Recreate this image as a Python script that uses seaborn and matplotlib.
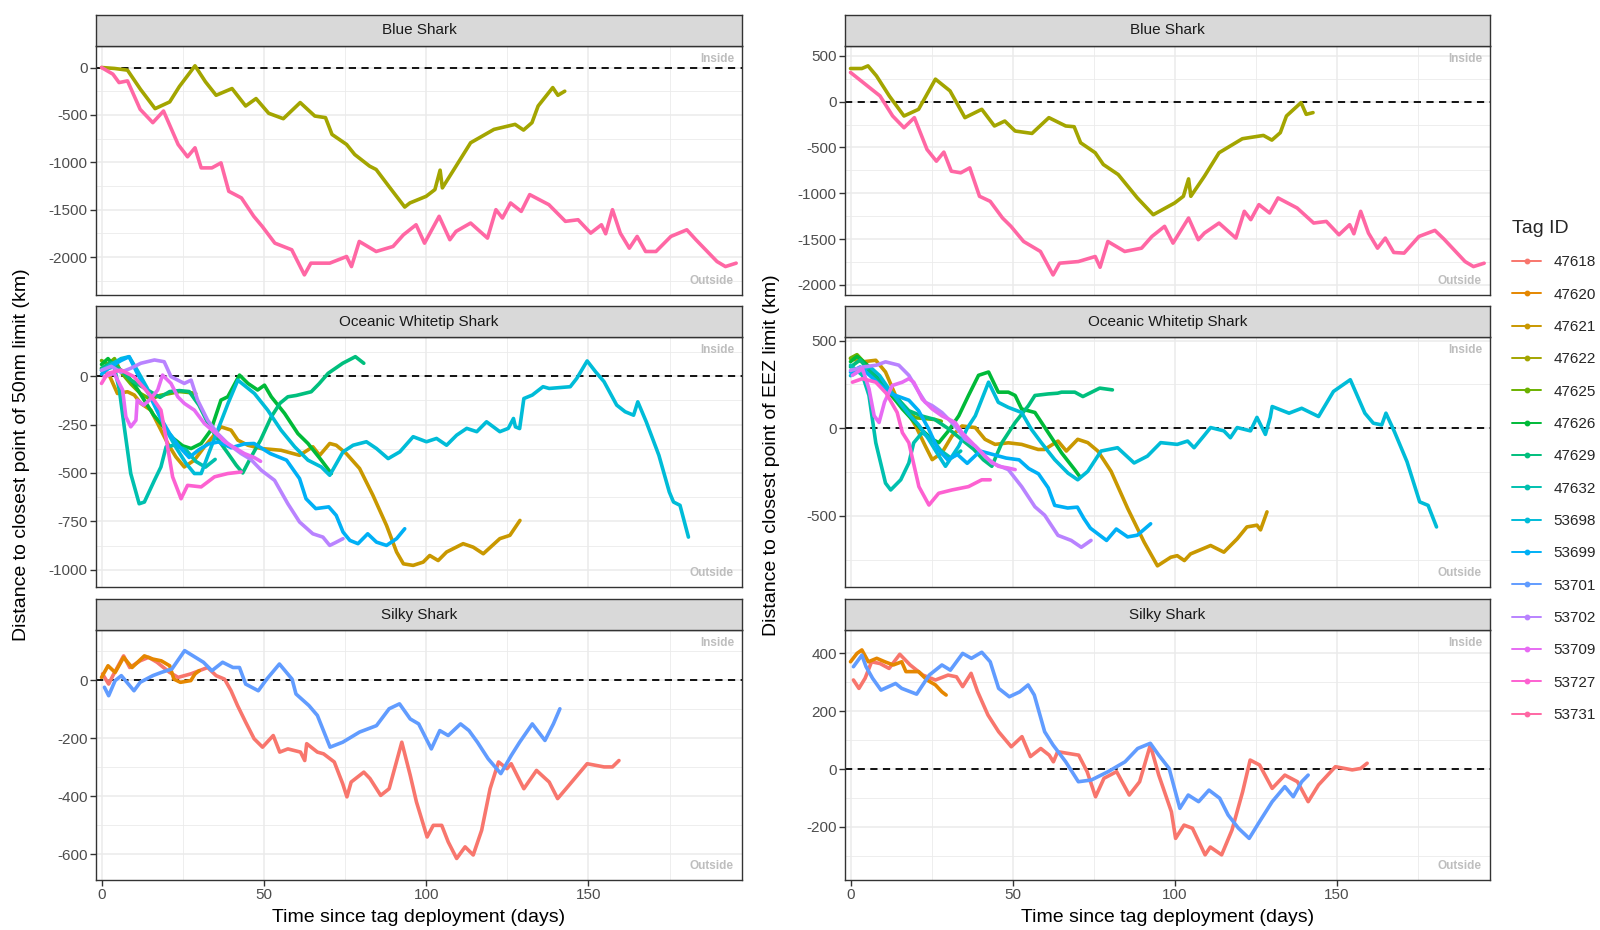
import numpy as np
import pandas as pd
import matplotlib
matplotlib.use("Agg")
import matplotlib.pyplot as plt
import seaborn as sns
from matplotlib.lines import Line2D

# ---------------- categories / legend ----------------
TAG_IDS = ["47618", "47620", "47621", "47622", "47625", "47626", "47629", "47632",
           "53698", "53699", "53701", "53702", "53709", "53727", "53731"]
TAG_COLORS = ["#F8766D", "#E58700", "#C99800", "#A3A500", "#6BB100", "#00BA38", "#00BF7D",
              "#00C0AF", "#00BCD8", "#00B0F6", "#619CFF", "#B983FF", "#E76BF3", "#FD61D1", "#FF67A4"]
SPECIES = ["Blue Shark", "Oceanic Whitetip Shark", "Silky Shark"]
X_TICKS = [0, 50, 100, 150]

Y_TICKS_50NM_BLUE = [0, -500, -1000, -1500, -2000]
Y_TICKS_50NM_OWT = [0, -250, -500, -750, -1000]
Y_TICKS_50NM_SILKY = [0, -200, -400, -600]
Y_TICKS_EEZ_BLUE = [500, 0, -500, -1000, -1500, -2000]
Y_TICKS_EEZ_OWT = [500, 0, -500]
Y_TICKS_EEZ_SILKY = [400, 200, 0, -200]

# ---------------- series: (day, km) ----------------
# ---- Distance to 50nm limit ----
N50_BLUE_47622 = [(0, 0), (4, -10), (8, -28), (12, -230), (16.5, -434), (21, -363), (24, -200), (28.8, 18),
                  (32, -150), (35.3, -293), (40.2, -222), (44.4, -406), (47.6, -328), (51.5, -483), (56, -540),
                  (61.2, -370), (65.7, -512), (69, -529), (71, -706), (75.5, -812), (78, -918), (82.6, -1041),
                  (84.6, -1076), (88.5, -1253), (93.4, -1472), (95, -1429), (100, -1359), (102.7, -1288),
                  (104.3, -1083), (105, -1270), (109.2, -1041), (113.7, -794), (120.9, -653), (127.4, -600),
                  (130, -660), (132.6, -582), (134.5, -406), (139, -212), (140.6, -293), (142.7, -250)]
N50_BLUE_53731 = [(0, 0), (3.5, -70), (5.4, -159), (8, -141), (11.9, -441), (15.8, -582), (19.1, -459),
                  (23.6, -812), (26.5, -942), (28.8, -847), (30.7, -1059), (34, -1059), (36.8, -1006),
                  (39.2, -1306), (43.1, -1376), (46.9, -1570), (49.5, -1676), (53.4, -1853), (58.6, -1923),
                  (62.5, -2188), (64.5, -2064), (70.3, -2064), (75.5, -1994), (77, -2100), (79.4, -1835),
                  (84.6, -1941), (89.8, -1888), (93, -1765), (96.9, -1659), (99.5, -1853), (104, -1570),
                  (107.3, -1817), (109.2, -1729), (113.7, -1641), (118.9, -1800), (121.5, -1500),
                  (123.5, -1588), (126, -1429), (129.3, -1518), (131.9, -1341), (137.8, -1447),
                  (142.9, -1623), (146.8, -1606), (150.7, -1747), (154, -1659), (155.3, -1754),
                  (157.4, -1500), (159.8, -1747), (162.6, -1906), (165, -1782), (167.6, -1941),
                  (170.8, -1941), (175.4, -1782), (180.3, -1712), (183.1, -1817), (189.6, -2047),
                  (192.2, -2100), (195.5, -2064)]

N50_OWT_47621 = [(0, 40), (2.5, 0), (4.9, -90), (8, -81), (10.1, -98), (12.1, -141), (15.2, -176),
                 (17.8, -262), (20.4, -348), (22.9, -417), (25.5, -469), (28.6, -434), (31.7, -365),
                 (36.8, -262), (39.9, -279), (42, -331), (45.1, -357), (49.2, -374), (55.3, -383),
                 (61, -409), (65.1, -365), (67.2, -409), (70.3, -348), (72.3, -357), (75.4, -400),
                 (79.5, -477), (83.6, -615), (87.8, -771), (90.9, -908), (93, -969), (96, -977),
                 (99.1, -960), (101.1, -926), (103.7, -952), (106.3, -908), (111.4, -865), (114.5, -883),
                 (117.6, -917), (122.7, -839), (125.8, -822), (128.9, -745)]
N50_OWT_47625 = [(0, 80), (2, 60), (4, 90), (6, 20), (9, -40), (12, -90), (15, -120), (18, -100),
                 (21, -90), (24, -80), (27, -85), (29, -90)]
N50_OWT_47626 = [(0, 60), (2, 90), (4, 50), (7, 20), (10, -40), (13, -120), (16, -200), (19, -260),
                 (22, -320), (25, -360), (27.6, -374), (30.7, -348), (33.7, -279), (36.8, -124),
                 (38.9, -107), (42.5, 5), (45.1, -38), (48.1, -72), (50.2, -47), (52.3, -107),
                 (56.4, -193), (60.5, -297), (63.6, -348), (67.7, -434), (70.8, -503)]
N50_OWT_47629 = [(0, 40), (3, 70), (6, 30), (9, -20), (12, -50), (15, -80), (18, -110), (21, -80),
                 (24, -75), (27, -80), (30, -150), (33, -250), (36, -330), (39, -400), (41.5, -460),
                 (43.5, -500), (46, -420), (49, -330), (52.3, -210), (55, -140), (57.4, -107), (60, -100),
                 (64.6, -81), (67, -40), (69.8, 14), (74.3, 66), (78.2, 100), (80.8, 66)]
N50_OWT_47632 = [(0, 31), (3.9, 48), (5.5, -72), (7, -262), (9, -503), (11.6, -659), (13.2, -650),
                 (16.3, -538), (18.3, -469), (19.9, -365), (22.4, -357), (26, -380), (29, -440),
                 (32, -470), (35, -430)]
N50_OWT_53698 = [(0, 30), (3, 60), (6, 90), (8.5, 100), (11, 30), (14, -60), (17, -170), (20, -280),
                 (23, -370), (26, -450), (28.6, -503), (30.7, -503), (33, -400), (36, -270), (39, -140),
                 (42, -21), (47.1, -90), (51.2, -176), (55.3, -279), (59.5, -365), (63.6, -434),
                 (67.7, -469), (70.3, -512), (74.4, -391), (77.5, -357), (81.6, -339), (84.7, -374),
                 (88.3, -426), (91.9, -391), (96, -313), (100.1, -339), (103.2, -322), (106.3, -357),
                 (109.4, -305), (112.5, -270), (115.6, -287), (118.6, -236), (122.7, -287), (125.3, -270),
                 (126.9, -219), (127.5, -262), (128.8, -271), (130.1, -116), (132.7, -98), (136, -55),
                 (137.9, -64), (144.4, -55), (146.4, -12), (149.6, 78), (152.2, 22), (154.8, -29),
                 (158.7, -150), (161.3, -184), (163.9, -202), (165.2, -133), (167.8, -236),
                 (171.7, -409), (174.9, -598), (176.2, -650), (178.2, -667), (180.8, -831)]
N50_OWT_53699 = [(0, 10), (3, 50), (6, 80), (8.5, 100), (11, 14), (15, -107), (18, -210), (21, -297),
                 (24, -365), (27, -420), (30, -380), (33, -350), (36, -340), (40, -370), (44, -350),
                 (47, -348), (52, -400), (57, -434), (61, -529), (63, -633), (66, -684), (70, -675),
                 (72.3, -719), (74.4, -805), (76.5, -848), (79, -865), (82, -814), (84.7, -857),
                 (87.8, -874), (90.9, -839), (93.4, -788)]
N50_OWT_53702 = [(0, 30), (3, 50), (6, 20), (9, 40), (12.1, 66), (16.3, 83), (19.3, 74), (21.4, -3),
                 (25.5, -38), (27.6, -21), (29.6, -124), (32.7, -228), (35.8, -297), (39, -350),
                 (43, -400), (46, -430), (49.2, -486), (53.3, -538), (57.4, -659), (61, -753),
                 (65.1, -814), (68.2, -831), (70.3, -874), (72, -860), (74.4, -839)]
N50_OWT_53709 = [(0.8, -3), (3.9, 14), (6.5, -72), (7.5, -210), (9, -262), (10.6, -228), (11, -124),
                 (13, -150), (15, -120), (17.3, -72), (18.8, 5), (21.4, -38), (23.5, -107), (25.5, -141),
                 (28.6, -176), (31.7, -245), (35.3, -297), (38, -340), (41, -370), (44, -400),
                 (47, -420), (49, -440)]
N50_OWT_53727 = [(0, -38), (1.9, 14), (6, 31), (10, -3), (13, -60), (16, -120), (18.3, -176), (20, -331),
                 (21.9, -520), (24.5, -633), (26.5, -564), (30.7, -572), (34.8, -520), (38.9, -503),
                 (43, -495)]

N50_SILKY_47618 = [(0.3, 21), (2.2, -14), (3.5, 15), (6.8, 83), (8.7, 43), (11.9, 66), (14.5, 78),
                   (17.1, 61), (21, 26), (23.6, 9), (27.5, 21), (30.1, 32), (32.7, 43), (35.3, 15),
                   (37.9, 3), (39.9, -37), (41.9, -88), (44.4, -145), (47, -202), (49.6, -231),
                   (52.9, -191), (54.9, -248), (57.4, -237), (61.3, -248), (62.6, -277), (63.2, -219),
                   (66.5, -248), (68.4, -254), (71.7, -282), (74.3, -357), (75.6, -402), (76.9, -351),
                   (80.8, -317), (82.7, -339), (86, -397), (88.6, -374), (92.5, -214), (95.1, -328),
                   (97, -419), (100.3, -540), (102.2, -500), (104.8, -500), (106.8, -557), (109.4, -614),
                   (112, -574), (114.5, -602), (117.1, -517), (119.7, -374), (122.3, -282), (124.9, -305),
                   (126.2, -288), (130.1, -374), (134, -311), (137.9, -351), (140.5, -408), (143.1, -374),
                   (149.6, -288), (154.8, -299), (157.4, -299), (159.4, -277)]
N50_SILKY_47620 = [(0, 9), (2, 49), (4.2, 26), (6.8, 78), (9.4, 43), (13.2, 83), (15.8, 72), (18.4, 66),
                   (21, 49), (22.3, 3), (24.3, -8), (27.5, -2), (28.8, 21), (30.1, 32)]
N50_SILKY_53701 = [(0.9, -25), (2.2, -54), (4.2, -2), (6.1, 15), (10, -37), (11.9, -8), (15.8, 15),
                   (18.4, 26), (21.7, 38), (25.6, 101), (28.2, 83), (31.4, 61), (34, 32), (37.3, 61),
                   (40.5, 43), (42.5, 43), (44.4, -14), (48.3, -37), (50.9, 3), (54.8, 55), (58.7, 3),
                   (59.9, -48), (63.9, -88), (66.5, -122), (70.4, -231), (74.3, -214), (79.5, -179),
                   (84.7, -157), (88.6, -99), (91.8, -82), (95.1, -134), (97.7, -151), (101.6, -237),
                   (104.2, -174), (106.8, -191), (110.6, -151), (113.2, -174), (115.8, -214),
                   (119.1, -271), (123, -322), (126.2, -260), (128.8, -214), (132.7, -151),
                   (136.6, -208), (139.2, -151), (141.2, -99)]

# ---- Distance to EEZ limit ----
EEZ_BLUE_47622 = [(0, 361), (3.5, 361), (5.4, 390), (8, 281), (12, 60), (16.5, -157), (21, -84),
                  (26.2, 245), (30.7, 117), (35.3, -175), (40.5, -84), (44.4, -266), (47.6, -212),
                  (50.8, -321), (56, -347), (61.2, -175), (66.4, -266), (69, -274), (71, -449),
                  (75.5, -558), (78, -686), (82.6, -796), (88.5, -1051), (93.4, -1234), (100, -1106),
                  (102.7, -1033), (104.3, -843), (105, -1033), (109.2, -814), (113.7, -558),
                  (120.9, -405), (127.4, -369), (130, -420), (132.6, -339), (134.5, -157), (139, -11),
                  (140.6, -139), (142.7, -120)]
EEZ_BLUE_53731 = [(0, 318), (2.6, 245), (6.5, 135), (9.1, 62), (13, -157), (16.5, -285), (19.7, -175),
                  (23.6, -522), (26.5, -650), (28.8, -551), (31.1, -759), (34, -777), (36.8, -723),
                  (39.8, -1033), (43.1, -1088), (46.9, -1270), (49.5, -1361), (53.4, -1526), (58.6, -1635),
                  (62.5, -1891), (64.5, -1763), (70.3, -1745), (75.5, -1690), (77, -1807), (79.4, -1526),
                  (84.6, -1635), (89.8, -1599), (93, -1471), (96.9, -1361), (99.5, -1544), (104.3, -1270),
                  (107.3, -1507), (109.2, -1434), (113.7, -1325), (118.9, -1489), (121.5, -1197),
                  (123.5, -1288), (126, -1124), (129.3, -1215), (131.9, -1051), (137.8, -1161),
                  (142.9, -1325), (146.8, -1307), (150.7, -1453), (154, -1343), (155.3, -1442),
                  (157.4, -1197), (159.8, -1434), (162.6, -1599), (165, -1489), (167.6, -1646),
                  (170.8, -1653), (175.4, -1471), (180.3, -1405), (183.1, -1500), (189.6, -1745),
                  (192.2, -1800), (195.5, -1763)]

EEZ_OWT_47621 = [(0, 398), (3.7, 379), (7.8, 388), (10.8, 321), (13.9, 187), (17, 110), (20.1, 13),
                 (23.1, -102), (25.2, -179), (28.2, -140), (31.3, -44), (34.4, 13), (38.5, 4), (41.5, -63),
                 (44.6, -92), (48.7, -83), (52.8, -92), (57.9, -121), (59.9, -121), (64, -73),
                 (66.6, -130), (70.1, -63), (73.2, -82), (76.3, -130), (80.4, -246), (85.5, -457),
                 (90.6, -650), (94.7, -785), (98.8, -736), (100.8, -727), (103, -755), (104.9, -717),
                 (111.1, -669), (115.2, -707), (119.3, -631), (122.3, -563), (125.4, -553),
                 (126.5, -580), (128.5, -477)]
EEZ_OWT_47625 = [(0, 400), (2, 420), (4, 380), (8, 300), (12, 200), (16, 120), (20, 60), (23, 55),
                 (26, 50), (28, 40)]
EEZ_OWT_47626 = [(0, 380), (2, 410), (4, 380), (7, 330), (10, 260), (13, 180), (16, 110), (19, 50),
                 (22, -10), (25, -60), (27.2, -83), (30, -20), (33.4, 71), (36.4, 187), (39.5, 302),
                 (42.6, 321), (45.6, 206), (48.7, 206), (50.8, 187), (52.8, 110), (56.9, 90), (61, -25),
                 (65.1, -140), (69.2, -237), (70.7, -275)]
EEZ_OWT_47629 = [(0, 350), (3, 390), (6, 320), (10, 250), (14, 180), (18, 100), (22, 70), (26, 50),
                 (30, 0), (34, -60), (38, -120), (41, -180), (43.6, -217), (46.7, -83), (50.8, 33),
                 (54.9, 129), (56.9, 187), (61, 196), (63.9, 200), (65.1, 206), (69.2, 206), (71.7, 181),
                 (76.9, 229), (80.8, 219)]
EEZ_OWT_47632 = [(0, 360), (3.7, 302), (5.7, 187), (7.8, -83), (10.8, -313), (12.4, -352), (15.5, -294),
                 (18, -198), (19.5, -83), (22.1, -25), (25, -60), (28, -130), (31, -170), (34, -130)]
EEZ_OWT_53698 = [(0, 300), (3, 330), (6, 350), (9, 300), (12, 220), (15, 150), (18, 80), (21, 20),
                 (24, -60), (27, -150), (29.3, -217), (33.4, -102), (36, 0), (38.5, 71), (42.6, 263),
                 (45.6, 148), (48.7, 119), (52.8, 90), (55.8, -6), (58.9, -83), (63, -179), (67.1, -256),
                 (70.1, -294), (73.2, -246), (77.3, -130), (82.4, -111), (87.5, -198), (91.6, -159),
                 (95.7, -82), (100.8, -92), (104, -73), (106, -111), (109, -44), (111.1, 4),
                 (115.2, -15), (117.2, -54), (119.3, 4), (123.4, -15), (125.4, 62), (128, -35),
                 (129.5, 62), (130.1, 124), (135.3, 86), (139.2, 114), (144.4, 67), (149, 210),
                 (154.2, 277), (158.7, 86), (161.3, 29), (163.9, 19), (165.2, 86), (167.8, -19),
                 (171.7, -191), (175.6, -420), (178.2, -440), (180.8, -563)]
EEZ_OWT_53699 = [(0, 320), (3, 350), (6, 300), (9, 250), (12, 200), (15, 180), (18, 160), (21, 100),
                 (24, 0), (27, -120), (30, -180), (33, -150), (36, -200), (40, -130), (44, -150),
                 (48, -170), (52, -180), (55, -230), (58, -260), (61, -340), (63, -440), (67, -455),
                 (70, -450), (72, -515), (74, -570), (79, -640), (82, -575), (85.5, -620), (88.5, -610),
                 (92.6, -545)]
EEZ_OWT_53702 = [(0, 330), (4, 350), (8, 360), (10.8, 379), (14.9, 360), (18, 302), (21.1, 206),
                 (23.1, 148), (25.2, 129), (28.2, 90), (32.3, 13), (35.4, -63), (38.5, -102),
                 (43.6, -198), (48.7, -236), (52.8, -333), (56.9, -448), (59.9, -496), (64, -611),
                 (68.1, -640), (71.2, -679), (74.2, -640)]
EEZ_OWT_53709 = [(0.6, 302), (3.7, 340), (5.7, 225), (7.3, 71), (8.8, 33), (10.5, 150), (12.9, 244),
                 (16, 263), (18, 283), (19.5, 263), (22.1, 167), (25.2, 110), (28.2, 71), (32.3, 33),
                 (34.4, -25), (38.5, -102), (42.6, -179), (45.6, -217), (48.7, -227), (50.8, -236)]
EEZ_OWT_53727 = [(0.6, 263), (3.7, 283), (7.8, 263), (11, 200), (14.4, 90), (16, -25), (18, -83),
                 (21.1, -333), (24.2, -438), (27.2, -371), (31.3, -352), (36.4, -333), (40.5, -294),
                 (43.1, -294)]

EEZ_SILKY_47618 = [(0.9, 308), (2.6, 279), (4.5, 314), (6.5, 371), (9.1, 365), (11.9, 348), (15.2, 397),
                   (18.4, 360), (22.3, 325), (26.2, 308), (30.1, 325), (32.7, 319), (34.6, 285),
                   (37.2, 331), (39.2, 268), (42.4, 187), (45.7, 129), (49.6, 77), (52.9, 112),
                   (55.5, 43), (58.7, 71), (61.3, 48), (62.6, 25), (63.9, 60), (67.1, 54), (70.4, 48),
                   (73, -9), (75.6, -96), (78.2, -32), (82.1, -9), (86, -90), (89.2, -44), (92.5, 83),
                   (95.1, -21), (99, -148), (100.3, -240), (102.9, -194), (105.5, -205), (109.4, -297),
                   (111, -270), (114.5, -297), (117.7, -211), (121, -78), (123.3, 31), (126.2, 14),
                   (130.1, -67), (134, -21), (137.9, -44), (141.2, -113), (144.4, -55), (149.6, 8),
                   (154.8, -3), (157.4, 2), (159.4, 20)]
EEZ_SILKY_47620 = [(0, 371), (2, 400), (3.5, 412), (5.5, 371), (8.1, 383), (10.6, 371), (13.2, 360),
                   (15.8, 371), (17.1, 337), (21, 337), (23.6, 308), (26.2, 291), (28.2, 267), (29.5, 256)]
EEZ_SILKY_53701 = [(0.9, 354), (3.5, 394), (4.8, 354), (6.8, 314), (9.4, 273), (13.9, 296), (15.8, 279),
                   (20.4, 259), (24.3, 325), (28.2, 360), (30.8, 342), (34.6, 400), (37.3, 383),
                   (40.5, 404), (43.1, 371), (45.7, 279), (49, 250), (52.2, 267), (54.8, 291),
                   (56.7, 256), (59.9, 129), (62.5, 83), (66.4, 25), (70.3, -44), (74.3, -38),
                   (79.5, -9), (84.7, 25), (88.6, 71), (92.5, 89), (95.1, 48), (98.3, 2), (101.6, -136),
                   (104.2, -90), (107.4, -113), (110.6, -73), (113.9, -101), (116.5, -159),
                   (119.7, -205), (123, -240), (126.2, -182), (130.1, -113), (134, -61), (136.6, -96),
                   (139.2, -44), (141.2, -21)]

# ---------------- assemble long-form table ----------------
SERIES = [
    ("50nm", "Blue Shark", "47622", N50_BLUE_47622), ("50nm", "Blue Shark", "53731", N50_BLUE_53731),
    ("50nm", "Oceanic Whitetip Shark", "47621", N50_OWT_47621),
    ("50nm", "Oceanic Whitetip Shark", "47625", N50_OWT_47625),
    ("50nm", "Oceanic Whitetip Shark", "47626", N50_OWT_47626),
    ("50nm", "Oceanic Whitetip Shark", "47629", N50_OWT_47629),
    ("50nm", "Oceanic Whitetip Shark", "47632", N50_OWT_47632),
    ("50nm", "Oceanic Whitetip Shark", "53698", N50_OWT_53698),
    ("50nm", "Oceanic Whitetip Shark", "53699", N50_OWT_53699),
    ("50nm", "Oceanic Whitetip Shark", "53702", N50_OWT_53702),
    ("50nm", "Oceanic Whitetip Shark", "53709", N50_OWT_53709),
    ("50nm", "Oceanic Whitetip Shark", "53727", N50_OWT_53727),
    ("50nm", "Silky Shark", "47618", N50_SILKY_47618), ("50nm", "Silky Shark", "47620", N50_SILKY_47620),
    ("50nm", "Silky Shark", "53701", N50_SILKY_53701),
    ("EEZ", "Blue Shark", "47622", EEZ_BLUE_47622), ("EEZ", "Blue Shark", "53731", EEZ_BLUE_53731),
    ("EEZ", "Oceanic Whitetip Shark", "47621", EEZ_OWT_47621),
    ("EEZ", "Oceanic Whitetip Shark", "47625", EEZ_OWT_47625),
    ("EEZ", "Oceanic Whitetip Shark", "47626", EEZ_OWT_47626),
    ("EEZ", "Oceanic Whitetip Shark", "47629", EEZ_OWT_47629),
    ("EEZ", "Oceanic Whitetip Shark", "47632", EEZ_OWT_47632),
    ("EEZ", "Oceanic Whitetip Shark", "53698", EEZ_OWT_53698),
    ("EEZ", "Oceanic Whitetip Shark", "53699", EEZ_OWT_53699),
    ("EEZ", "Oceanic Whitetip Shark", "53702", EEZ_OWT_53702),
    ("EEZ", "Oceanic Whitetip Shark", "53709", EEZ_OWT_53709),
    ("EEZ", "Oceanic Whitetip Shark", "53727", EEZ_OWT_53727),
    ("EEZ", "Silky Shark", "47618", EEZ_SILKY_47618), ("EEZ", "Silky Shark", "47620", EEZ_SILKY_47620),
    ("EEZ", "Silky Shark", "53701", EEZ_SILKY_53701),
]
rows = []
for limit, sp, tag, pts in SERIES:
    for i, (d, km) in enumerate(pts):
        rows.append({"limit": limit, "species": sp, "tag": tag, "order": i, "day": d, "km": km})
df = pd.DataFrame(rows)

PALETTE = dict(zip(TAG_IDS, TAG_COLORS))

# ---------------- figure ----------------
sns.set_theme(style="white")
plt.rcParams["font.family"] = ["Liberation Sans", "DejaVu Sans"]
plt.rcParams["axes.unicode_minus"] = False

W, H = 1600, 930
fig = plt.figure(figsize=(W / 100, H / 100), dpi=100)
fig.patch.set_facecolor("white")

COL_X = {"50nm": (96, 742), "EEZ": (845, 1490)}
ROW_Y = [(14.7, 45.7, 295), (306, 337.3, 586.7), (599, 630, 880)]  # strip top, panel top, panel bottom
YLIMS = {
    ("50nm", 0): (-2400, 230), ("50nm", 1): (-1087, 200), ("50nm", 2): (-688, 172),
    ("EEZ", 0): (-2110, 610), ("EEZ", 1): (-904, 519), ("EEZ", 2): (-384, 481),
}
YTICKS = {
    ("50nm", 0): Y_TICKS_50NM_BLUE, ("50nm", 1): Y_TICKS_50NM_OWT, ("50nm", 2): Y_TICKS_50NM_SILKY,
    ("EEZ", 0): Y_TICKS_EEZ_BLUE, ("EEZ", 1): Y_TICKS_EEZ_OWT, ("EEZ", 2): Y_TICKS_EEZ_SILKY,
}

def fx(px):
    return px / W

def fy(py):
    return 1 - py / H

for limit in ["50nm", "EEZ"]:
    x0, x1 = COL_X[limit]
    for r, sp in enumerate(SPECIES):
        st, pt, pb = ROW_Y[r]
        ax = fig.add_axes([fx(x0), fy(pb), fx(x1 - x0), (pb - pt) / H])
        sub = df[(df["limit"] == limit) & (df["species"] == sp)]
        tags = [t for t in TAG_IDS if t in set(sub["tag"])]
        ax.axhline(0, color="black", lw=1.3, ls=(0, (4, 3)), zorder=1)
        sns.lineplot(data=sub, x="day", y="km", hue="tag", hue_order=tags, palette=PALETTE,
                     estimator=None, sort=False, units="tag", legend=False, linewidth=2.6,
                     ax=ax, zorder=3)
        ax.set_xlim(-1.7, 197.3)
        yt = YTICKS[(limit, r)]
        ax.set_xticks(X_TICKS)
        ax.set_xticks([25, 75, 125, 175], minor=True)
        ys = sorted(yt)
        step = ys[1] - ys[0]
        ax.set_yticks(yt)
        ax.set_yticklabels([str(v) for v in yt])
        ax.set_yticks([v + step / 2 for v in [ys[0] - step] + ys], minor=True)
        ax.set_ylim(*YLIMS[(limit, r)])
        ax.grid(which="major", color="#EBEBEB", lw=1.1)
        ax.grid(which="minor", color="#EBEBEB", lw=0.6)
        ax.set_axisbelow(True)
        for s in ax.spines.values():
            s.set_color("#333333")
            s.set_linewidth(1.0)
        ax.tick_params(axis="y", which="major", length=4, width=1, color="#333333",
                       labelsize=11, labelcolor="#4D4D4D", pad=2, left=True)
        ax.tick_params(which="minor", length=0)
        if r == 2:
            ax.tick_params(axis="x", which="major", length=4, width=1, color="#333333",
                           labelsize=11, labelcolor="#4D4D4D", pad=2, bottom=True)
        else:
            ax.tick_params(axis="x", which="major", length=0, labelbottom=False)
        ax.set_xlabel("")
        ax.set_ylabel("")
        ax.text(1 - 8 / (x1 - x0), 1 - 13 / (pb - pt), "Inside", transform=ax.transAxes,
                ha="right", va="center", fontsize=8.5, fontweight="bold", color="#BEBEBE")
        ax.text(1 - 8 / (x1 - x0), 14 / (pb - pt), "Outside", transform=ax.transAxes,
                ha="right", va="center", fontsize=8.5, fontweight="bold", color="#BEBEBE")
        # facet strip
        sax = fig.add_axes([fx(x0), fy(pt), fx(x1 - x0), (pt - st) / H])
        sax.set_facecolor("#D9D9D9")
        sax.set_xticks([])
        sax.set_yticks([])
        for s in sax.spines.values():
            s.set_color("#333333")
            s.set_linewidth(1.0)
        sax.text(0.5, 0.5, sp, ha="center", va="center", fontsize=11, color="#1A1A1A",
                 transform=sax.transAxes)

    fig.text(fx((x0 + x1) / 2), fy(917), "Time since tag deployment (days)", ha="center",
             va="center", fontsize=14, color="black")

fig.text(fx(22), fy(455), "Distance to closest point of 50nm limit (km)", rotation=90,
         ha="center", va="center", fontsize=14, color="black")
fig.text(fx(772), fy(455), "Distance to closest point of EEZ limit (km)", rotation=90,
         ha="center", va="center", fontsize=14, color="black")

handles = [Line2D([], [], color=c, lw=1.4, marker="o", markersize=3.2) for c in TAG_COLORS]
leg = fig.legend(handles, TAG_IDS, title="Tag ID", loc="upper left",
                 bbox_to_anchor=(fx(1509), fy(217)), frameon=False, fontsize=11,
                 title_fontsize=14, handlelength=1.9, handletextpad=0.8, labelspacing=1.2,
                 borderaxespad=0, borderpad=0.2, alignment="left")

fig.savefig("out.png", dpi=100, facecolor="white")
